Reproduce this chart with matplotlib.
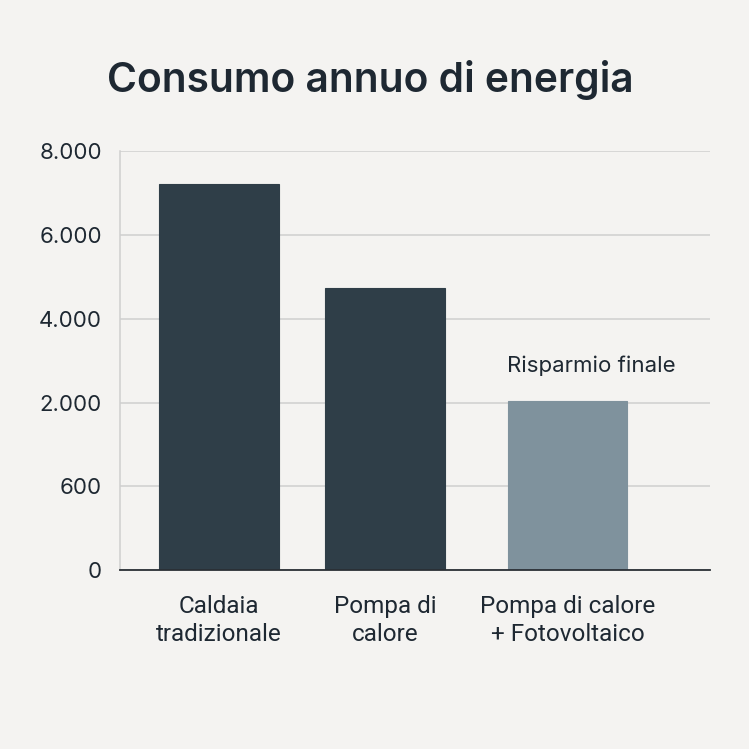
import matplotlib.pyplot as plt

plt.rcParams['font.family'] = ['Inter', 'DejaVu Sans']

# dati
categorie = ['Caldaia\ntradizionale', 'Pompa di\ncalore', 'Pompa di calore\n+ Fotovoltaico']
posizioni = [0, 1, 2.1]
consumi = [7370, 5390, 3230]
colori = ['#2f3e48', '#2f3e48', '#7f929d']
tick_y = [0, 1600, 3200, 4800, 6400, 8000]
tick_labels = ['0', '600', '2.000', '4.000', '6.000', '8.000']

sfondo = '#f4f3f1'
testo = '#1e2832'

fig = plt.figure(figsize=(7.49, 7.49), dpi=100, facecolor=sfondo)
ax = fig.add_axes([0.160, 0.239, 0.788, 0.559], facecolor=sfondo)

ax.bar(posizioni, consumi, width=0.72, color=colori, zorder=3,
       edgecolor=colori, linewidth=0.8)

ax.set_xlim(-0.596, 2.958)
ax.set_ylim(0, 8000)
ax.set_yticks(tick_y)
ax.set_yticklabels(tick_labels)
ax.set_xticks(posizioni)
ax.set_xticklabels(categorie, linespacing=1.3, family=['Roboto', 'DejaVu Sans'])

ax.grid(axis='y', color='#cfcfcf', linewidth=1.1, zorder=0)
ax.tick_params(axis='y', length=0, pad=13, labelsize=16, labelcolor=testo)
ax.tick_params(axis='x', length=0, pad=18, labelsize=17.5, labelcolor=testo)

for s in ['top', 'right']:
    ax.spines[s].set_visible(False)
ax.spines['left'].set_color('#cfcfcf')
ax.spines['left'].set_linewidth(1.1)
ax.spines['bottom'].set_color('#2a2f35')
ax.spines['bottom'].set_linewidth(1.3)
ax.spines['bottom'].set_zorder(4)

ax.text(2.245, 3895, 'Risparmio finale', ha='center', va='center',
        fontsize=16, color=testo)

fig.text(0.494, 0.893, 'Consumo annuo di energia', ha='center', va='center',
         fontsize=29.3, fontweight='semibold', color=testo)

plt.savefig('out.png', dpi=100, facecolor=sfondo)
